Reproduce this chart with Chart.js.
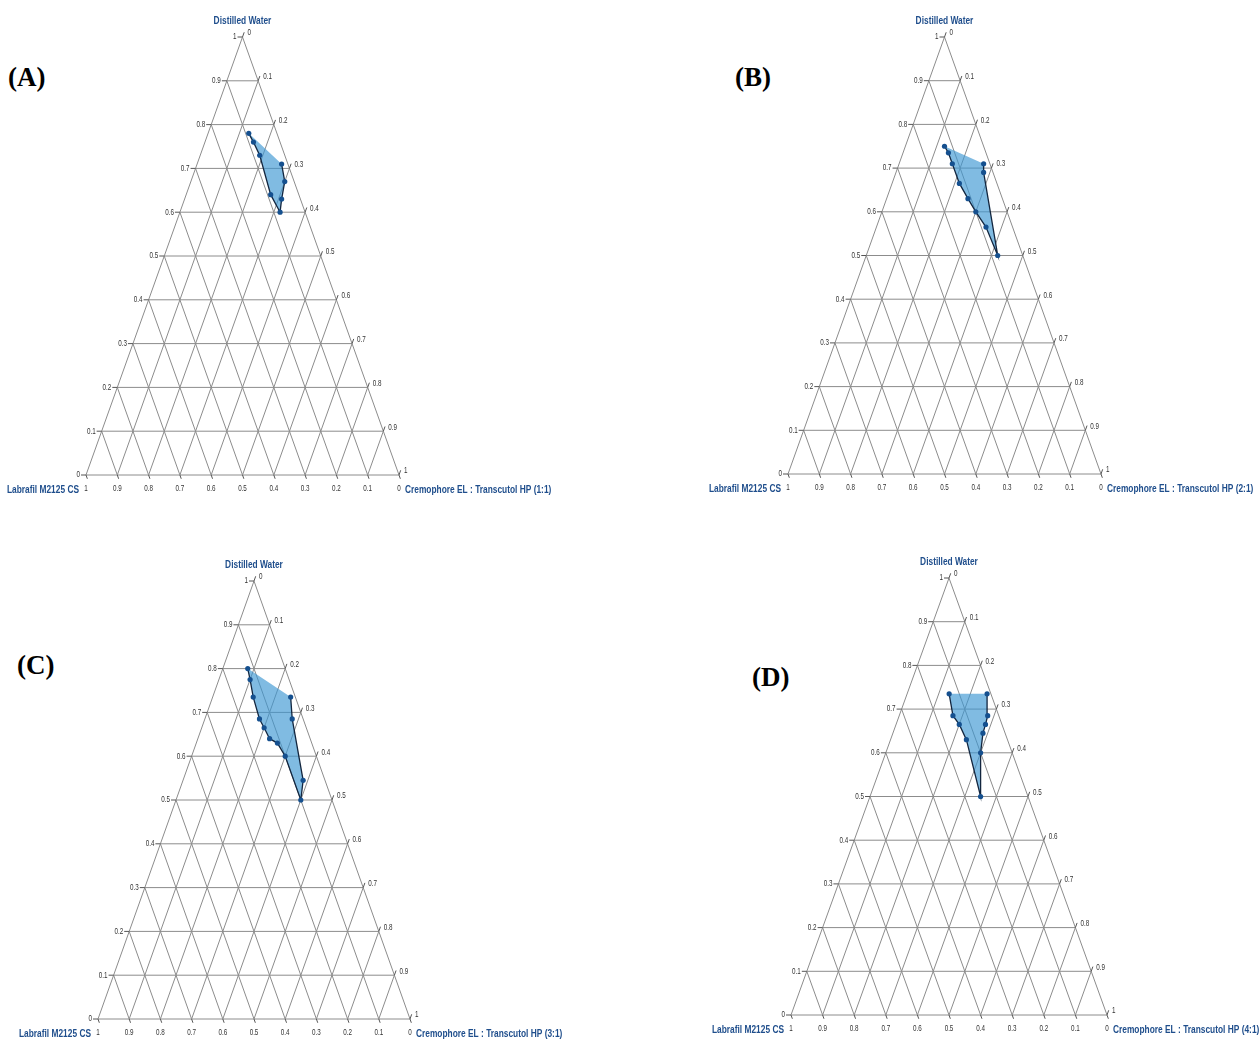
<!DOCTYPE html>
<html>
<head>
<meta charset="utf-8">
<script src="https://cdn.jsdelivr.net/npm/chart.js@4.4.0/dist/chart.umd.min.js"></script>
<style>
  html, body { margin: 0; padding: 0; background: #fff; }
  body { position: relative; width: 1260px; height: 1039px; overflow: hidden; }
  canvas { position: absolute; }
  .tag { position: absolute; font: bold 27px "Liberation Serif", "DejaVu Serif", serif; line-height: 30px; color: #000; }
</style>
</head>
<body>
<div class="tag" style="left:8px;top:62px">(A)</div>
<div class="tag" style="left:735px;top:62px">(B)</div>
<div class="tag" style="left:17px;top:650px">(C)</div>
<div class="tag" style="left:752px;top:662px">(D)</div>

<script>
'use strict';

// ─── Ejes ternarios ───────────────────────────────────────────────────────────

const tickValues = [0, 0.1, 0.2, 0.3, 0.4, 0.5, 0.6, 0.7, 0.8, 0.9, 1];
const tickLabels = ['0', '0.1', '0.2', '0.3', '0.4', '0.5', '0.6', '0.7', '0.8', '0.9', '1'];

const titleTop   = 'Distilled Water';
const titleLeft  = 'Labrafil M2125 CS';
const titleRight = [
  'Cremophore EL : Transcutol HP (1:1)',
  'Cremophore EL : Transcutol HP (2:1)',
  'Cremophore EL : Transcutol HP (3:1)',
  'Cremophore EL : Transcutol HP (4:1)',
];

// ─── Region de microemulsion (fraccion agua / fraccion Smix), orden del contorno

const waterA = [0.78, 0.76, 0.73, 0.64, 0.60, 0.63, 0.67, 0.71];
const smixA  = [0.13, 0.155, 0.19, 0.27, 0.32, 0.31, 0.30, 0.27];

const waterB = [0.75, 0.735, 0.71, 0.665, 0.63, 0.60, 0.565, 0.50, 0.69, 0.71];
const smixB  = [0.125, 0.145, 0.17, 0.215, 0.26, 0.30, 0.35, 0.42, 0.28, 0.27];

const waterC = [0.80, 0.775, 0.735, 0.685, 0.665, 0.64, 0.63, 0.60, 0.50, 0.545, 0.685, 0.735];
const smixC  = [0.08, 0.10, 0.13, 0.175, 0.20, 0.23, 0.26, 0.30, 0.40, 0.385, 0.28, 0.25];

const waterD = [0.735, 0.685, 0.665, 0.63, 0.50, 0.60, 0.645, 0.665, 0.685, 0.735];
const smixD  = [0.133, 0.17, 0.20, 0.24, 0.35, 0.30, 0.285, 0.283, 0.28, 0.253];

// ─── Paneles (posicion del triangulo en la pagina) ────────────────────────────

const panels = [
  { left: 86,  top: 37,  w: 313, h: 438, water: waterA, smix: smixA, right: titleRight[0] },
  { left: 788, top: 37,  w: 313, h: 437, water: waterB, smix: smixB, right: titleRight[1] },
  { left: 98,  top: 581, w: 312, h: 438, water: waterC, smix: smixC, right: titleRight[2] },
  { left: 791, top: 578, w: 316, h: 437, water: waterD, smix: smixD, right: titleRight[3] },
];

const PAD = { left: 90, right: 170, top: 30, bottom: 30 };

const C = {
  grid:    '#8c8c8c',
  tick:    '#555',
  label:   '#333',
  title:   '#1f4e8c',
  outline: '#13263f',
  point:   '#15508f',
  fill:    'rgba(60,150,210,0.65)',
};

const FONT_TICK  = '8.5px "Liberation Sans", Arial, sans-serif';
const FONT_TITLE = 'bold 11px "Liberation Sans", Arial, sans-serif';
const SQUEEZE_TICK  = 0.74;   // la figura usa una fuente estrecha
const SQUEEZE_TITLE = 0.76;

// ─── Helpers ─────────────────────────────────────────────────────────────────

// agua w, Smix s -> coordenadas cartesianas del triangulo
function tern(w, s) {
  return { x: s + w / 2, y: w };
}

const GAP = { x: null, y: null };

function gridData() {
  const pts = [];
  tickValues.slice(1, -1).forEach(function(t) {
    pts.push(tern(t, 0), tern(t, 1 - t), GAP);        // agua constante
    pts.push(tern(0, t), tern(1 - t, t), GAP);        // Smix constante
    pts.push(tern(0, 1 - t), tern(1 - t, 0), GAP);    // aceite constante
  });
  pts.push(tern(0, 0), tern(1, 0), tern(0, 1), tern(0, 0));
  return pts;
}

// texto comprimido horizontalmente
function narrowText(ctx, text, x, y, align, squeeze) {
  const w = ctx.measureText(text).width * squeeze;
  let left = x;
  if (align === 'center') left = x - w / 2;
  if (align === 'right')  left = x - w;
  ctx.save();
  ctx.translate(left, y);
  ctx.scale(squeeze, 1);
  ctx.textAlign = 'left';
  ctx.fillText(text, 0, 0);
  ctx.restore();
}

// Etiquetas, marcas y titulos de los tres ejes
const ternaryAxes = {
  id: 'ternaryAxes',
  afterDraw(chart, args, opts) {
    const ctx = chart.ctx;
    const sx = chart.scales.x, sy = chart.scales.y;
    const px = function(w, s) {
      const p = tern(w, s);
      return [sx.getPixelForValue(p.x), sy.getPixelForValue(p.y)];
    };
    const area = chart.chartArea;
    const dw = area.width / 2, dh = area.height;
    const len = Math.sqrt(dw * dw + dh * dh);
    const ux = dw / len, uy = dh / len;

    ctx.save();
    ctx.strokeStyle = C.tick;
    ctx.lineWidth = 1;
    ctx.fillStyle = C.label;
    ctx.font = FONT_TICK;
    ctx.textBaseline = 'middle';

    tickValues.forEach(function(t, i) {
      // izquierda: agua
      let p = px(t, 0);
      ctx.beginPath(); ctx.moveTo(p[0] - 5, p[1]); ctx.lineTo(p[0], p[1]); ctx.stroke();
      narrowText(ctx, tickLabels[i], p[0] - 6, p[1], 'right', SQUEEZE_TICK);

      // derecha: Smix
      p = px(1 - t, t);
      ctx.beginPath(); ctx.moveTo(p[0], p[1]); ctx.lineTo(p[0] + ux * 5, p[1] - uy * 5); ctx.stroke();
      narrowText(ctx, tickLabels[i], p[0] + 5, p[1] - 4, 'left', SQUEEZE_TICK);

      // abajo: Labrafil
      p = px(0, 1 - t);
      ctx.beginPath(); ctx.moveTo(p[0], p[1]); ctx.lineTo(p[0] + ux * 4, p[1] + uy * 4); ctx.stroke();
      narrowText(ctx, tickLabels[i], p[0], p[1] + 14, 'center', SQUEEZE_TICK);
    });

    ctx.font = FONT_TITLE;
    ctx.fillStyle = C.title;
    let p = px(1, 0);
    narrowText(ctx, titleTop, p[0], p[1] - 16, 'center', SQUEEZE_TITLE);
    p = px(0, 0);
    narrowText(ctx, titleLeft, p[0] - 7, p[1] + 15, 'right', SQUEEZE_TITLE);
    p = px(0, 1);
    narrowText(ctx, opts.right, p[0] + 6, p[1] + 15, 'left', SQUEEZE_TITLE);
    ctx.restore();
  },
};

// ─── Graficas ────────────────────────────────────────────────────────────────

function makePanel(cfg) {
  const canvas = document.createElement('canvas');
  canvas.width  = cfg.w + PAD.left + PAD.right;
  canvas.height = cfg.h + PAD.top + PAD.bottom;
  canvas.style.left = (cfg.left - PAD.left) + 'px';
  canvas.style.top  = (cfg.top - PAD.top) + 'px';
  document.body.appendChild(canvas);

  const outline = cfg.water.map(function(w, i) { return tern(w, cfg.smix[i]); });
  const closed = outline.concat([outline[0]]);

  new Chart(canvas.getContext('2d'), {
    type: 'scatter',
    data: {
      datasets: [
        {
          label: 'contorno',
          data: outline,
          showLine: true,
          borderColor: C.outline,
          borderWidth: 1.3,
          pointRadius: 2.6,
          pointBackgroundColor: C.point,
          pointBorderColor: C.point,
          pointBorderWidth: 0,
          clip: false,
          order: 1,
        },
        {
          label: 'region',
          data: closed,
          showLine: true,
          fill: 'shape',
          backgroundColor: C.fill,
          borderColor: 'rgba(0,0,0,0)',
          borderWidth: 0.01,
          pointRadius: 0,
          order: 2,
        },
        {
          label: 'rejilla',
          data: gridData(),
          showLine: true,
          borderColor: C.grid,
          borderWidth: 1,
          pointRadius: 0,
          clip: false,
          order: 3,
        },
      ],
    },
    options: {
      responsive: false,
      animation: false,
      events: [],
      devicePixelRatio: 1,
      layout: { padding: PAD },
      scales: {
        x: { type: 'linear', min: 0, max: 1, display: false },
        y: { type: 'linear', min: 0, max: 1, display: false },
      },
      plugins: {
        legend: { display: false },
        tooltip: { enabled: false },
        ternaryAxes: { right: cfg.right },
      },
    },
    plugins: [ternaryAxes],
  });
}

panels.forEach(makePanel);
</script>
</body>
</html>
